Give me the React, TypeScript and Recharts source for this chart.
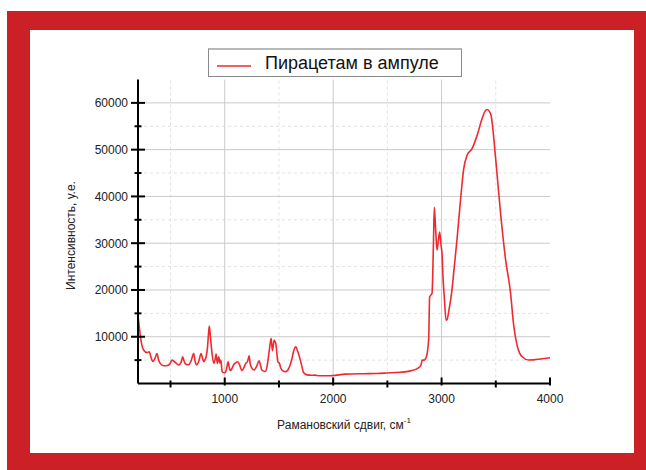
import { LineChart, Line, XAxis, YAxis, ReferenceLine, Legend, Label } from 'recharts';

// raman shift, cm-1
const shifts = [
  200, 210, 221, 235, 253, 283, 304, 320, 336, 355, 375, 390, 405, 437, 470, 490, 514, 540, 575, 600,
  612, 625, 640, 668, 690, 714, 728, 740, 760, 782, 795, 807, 818, 828, 840, 850, 858, 868, 883, 899,
  912, 920, 932, 945, 955, 964, 976, 990, 1006, 1018, 1031, 1042, 1052, 1068, 1084, 1100, 1120, 1140, 1157, 1175,
  1194, 1210, 1225, 1235, 1250, 1271, 1295, 1317, 1330, 1342, 1373, 1390, 1403, 1415, 1428, 1440, 1456, 1465, 1471, 1482,
  1490, 1505, 1515, 1527, 1557, 1580, 1603, 1620, 1634, 1656, 1668, 1680, 1705, 1727, 1757, 1800, 1834, 1845, 1900, 1957,
  2000, 2111, 2280, 2400, 2496, 2619, 2712, 2779, 2810, 2822, 2840, 2850, 2866, 2881, 2890, 2912, 2925, 2933, 2945, 2958,
  2970, 2982, 2995, 3004, 3015, 3025, 3041, 3050, 3065, 3081, 3097, 3111, 3143, 3173, 3204, 3235, 3281, 3327, 3373, 3400,
  3420, 3440, 3457, 3496, 3543, 3589, 3635, 3665, 3696, 3720, 3743, 3804, 3850, 3912, 4000,
];

// intensity, a.u.
const intensity = [
  14500, 12500, 10300, 8300, 7100, 6600, 6800, 5600, 4700, 5300, 6400, 5000, 4300, 3800, 3850, 4100, 5000, 4600, 3950, 4700,
  5700, 4800, 4100, 4000, 4900, 6400, 4600, 3950, 4700, 6400, 5400, 4650, 5100, 5700, 7500, 10500, 12300, 10000, 6400, 4300,
  5200, 6300, 4300, 5700, 4400, 5000, 2600, 2300, 2350, 3300, 4650, 3400, 2750, 3300, 4100, 4400, 4650, 3800, 2750, 3300,
  4300, 4700, 5900, 4200, 3300, 2880, 3700, 4870, 3900, 2880, 2550, 3600, 5700, 7800, 9650, 7000, 9280, 8900, 8580, 6200,
  4650, 4300, 3400, 2880, 2520, 2800, 3950, 5300, 6800, 7850, 7200, 6400, 4300, 2350, 1850, 1750, 1800, 1700, 1650, 1650,
  1700, 2000, 2100, 2150, 2250, 2400, 2700, 3250, 3950, 5000, 5000, 5200, 6300, 9500, 18500, 19300, 30000, 37700, 33000, 28500,
  30500, 32400, 29500, 27800, 22000, 18500, 13550, 13600, 15300, 17500, 20300, 23500, 30990, 38800, 45900, 48800, 50200, 53000, 56600, 58200,
  58600, 58200, 57300, 48760, 36660, 26720, 19590, 12480, 8220, 6500, 5720, 5015, 5050, 5230, 5510,
];

const xTicks = [500, 1000, 1500, 2000, 2500, 3000, 3500, 4000];
const xMajor = [1000, 2000, 3000];
const xMinor = [500, 1500, 2500, 3500];
const yTicks = [5000, 10000, 15000, 20000, 25000, 30000, 35000, 40000, 45000, 50000, 55000, 60000];
const yMajor = [10000, 20000, 30000, 40000, 50000, 60000];
const yMinor = [5000, 15000, 25000, 35000, 45000, 55000];

const seriesName = 'Пирацетам в ампуле';
const lineColor = '#ee2a30';
const font = '"Liberation Sans", Arial, sans-serif';

const data = shifts.map((s, i) => ({ shift: s, value: intensity[i] }));

const YTick = (props: any) => {
  const { x, y, payload } = props;
  const major = payload.value % 10000 === 0;
  const half = major ? 7 : 3.5;
  return (
    <g>
      <line x1={x - half} x2={x + half} y1={y} y2={y} stroke="#000" strokeWidth={2} />
      {major && (
        <text x={x - 10} y={y} dy={4.5} textAnchor="end" fontSize={12} fill="#222" fontFamily={font}>
          {payload.value}
        </text>
      )}
    </g>
  );
};

const XTick = (props: any) => {
  const { x, y, payload } = props;
  const major = payload.value % 1000 === 0;
  return (
    <g>
      <line x1={x} x2={x} y1={major ? y - 6 : y - 3} y2={major ? y + 2 : y + 4} stroke="#000" strokeWidth={2} />
      {major && (
        <text x={x} y={y + 19} textAnchor="middle" fontSize={12} fill="#222" fontFamily={font}>
          {payload.value}
        </text>
      )}
    </g>
  );
};

const renderLegend = () => (
  <div
    style={{
      width: 252,
      height: 26,
      border: '1px solid #8a8a8a',
      borderTop: '2px solid #b8b8b8',
      background: '#fff',
      display: 'flex',
      alignItems: 'center',
      fontFamily: font,
    }}
  >
    <svg width={56} height={26}>
      <line x1={8} x2={42} y1={16} y2={16} stroke={lineColor} strokeWidth={1.5} />
    </svg>
    <span style={{ fontSize: 18, color: '#111', whiteSpace: 'nowrap' }}>{seriesName}</span>
  </div>
);

export default function App() {
  return (
    <div style={{ position: 'absolute', left: 0, top: 0, width: 646, height: 470, background: '#fff' }}>
      <div style={{ position: 'absolute', left: 7, top: 11, width: 639, height: 459, background: '#cc2027' }} />
      <div style={{ position: 'absolute', left: 30, top: 30, width: 604, height: 423, background: '#fff' }} />
      <div style={{ position: 'absolute', left: 0, top: 0 }}>
        <LineChart width={646} height={470} data={data} margin={{ top: 79.5, right: 96, bottom: 26.5, left: 0 }}>
          {yMinor.map((v) => (
            <ReferenceLine key={'ym' + v} y={v} stroke="#e2e2e2" strokeDasharray="3 3" />
          ))}
          {xMinor.map((v) => (
            <ReferenceLine key={'xm' + v} x={v} stroke="#e2e2e2" strokeDasharray="3 3" />
          ))}
          {yMajor.map((v) => (
            <ReferenceLine key={'yM' + v} y={v} stroke="#cacaca" />
          ))}
          {xMajor.map((v) => (
            <ReferenceLine key={'xM' + v} x={v} stroke="#cacaca" />
          ))}
          <XAxis
            dataKey="shift"
            type="number"
            domain={[200, 4000]}
            ticks={xTicks}
            allowDataOverflow
            height={60}
            tickSize={0}
            tickMargin={0}
            tickLine={false}
            axisLine={{ stroke: '#000', strokeWidth: 2 }}
            tick={<XTick />}
            interval={0}
          >
            <Label
              content={(p: any) => {
                const vb = p.viewBox;
                return (
                  <text
                    x={vb.x + vb.width / 2}
                    y={vb.y + 45}
                    textAnchor="middle"
                    fontSize={12}
                    fill="#222"
                    fontFamily={font}
                  >
                    <tspan>Рамановский сдвиг, см</tspan>
                    <tspan dy={-6} fontSize={8}>-1</tspan>
                  </text>
                );
              }}
            />
          </XAxis>
          <YAxis
            type="number"
            domain={[0, 65000]}
            ticks={yTicks}
            allowDataOverflow
            width={138}
            tickSize={0}
            tickMargin={0}
            tickLine={false}
            axisLine={{ stroke: '#000', strokeWidth: 2 }}
            tick={<YTick />}
            interval={0}
          >
            <Label
              content={(p: any) => {
                const vb = p.viewBox;
                const cx = vb.x + 71;
                const cy = vb.y + vb.height / 2 + 4;
                return (
                  <text
                    x={cx}
                    y={cy}
                    transform={`rotate(-90 ${cx} ${cy})`}
                    textAnchor="middle"
                    dominantBaseline="central"
                    fontSize={12}
                    fill="#222"
                    fontFamily={font}
                  >
                    Интенсивность, у.е.
                  </text>
                );
              }}
            />
          </YAxis>
          <Legend
            layout="vertical"
            align="center"
            verticalAlign="middle"
            content={renderLegend}
            wrapperStyle={{ position: 'absolute', left: 208, top: 48, width: 256, height: 30 }}
          />
          <Line
            type="monotone"
            dataKey="value"
            name={seriesName}
            stroke={lineColor}
            strokeWidth={1.6}
            dot={false}
            isAnimationActive={false}
          />
        </LineChart>
      </div>
    </div>
  );
}
